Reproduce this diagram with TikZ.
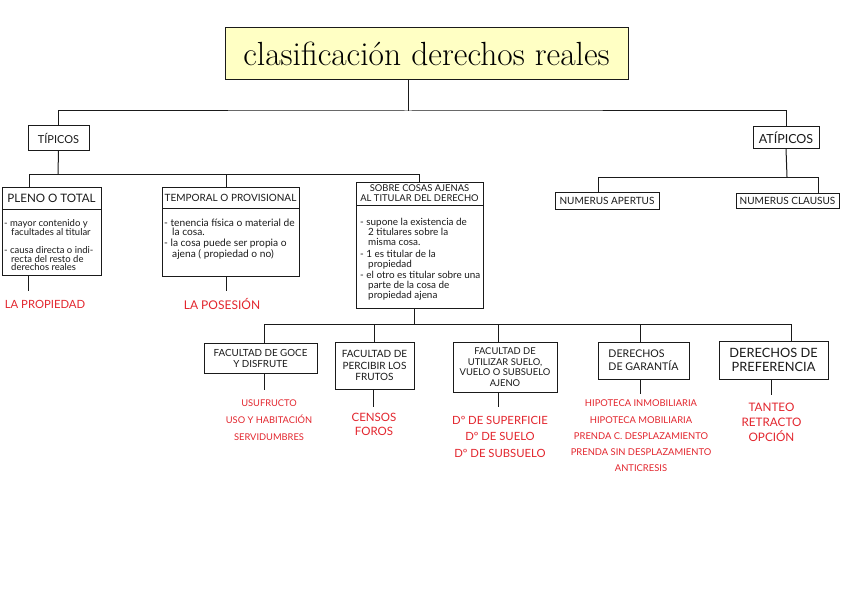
\documentclass[tikz,border=0pt]{standalone}
\usepackage{fontspec}
\newfontfamily\hand{Lato}
\definecolor{redink}{HTML}{E3262E}
\definecolor{titlefill}{HTML}{FFFFC4}
\definecolor{ink}{HTML}{1A1A1A}
\newcommand\hsz[2]{\fontsize{#1}{#2}\selectfont}
\begin{document}
\begin{tikzpicture}[x=1pt,y=-1pt,
  ln/.style={draw=ink, line width=1pt},
  bx/.style={draw=ink, line width=1pt, inner sep=0pt, align=center, text=ink},
  bodytxt/.style={align=left, inner sep=0pt, anchor=north west, text=ink},
  redlbl/.style={text=redink, align=center, inner sep=0pt}
]
\useasboundingbox (0,0) rectangle (848,599);
\fill[white] (0,0) rectangle (848,599);

% title
\node[bx, fill=titlefill, text=black, minimum width=403, minimum height=52, font=\hsz{33.5}{35}] (title) at (426.5,54) {clasificación derechos reales};

% level 1
\node[bx, minimum width=61, minimum height=24, font=\hand\hsz{11}{12}] (tip) at (58.5,138) {TÍPICOS};
\node[bx, minimum width=66, minimum height=21, font=\hand\hsz{12.5}{13}] (atip) at (786,137.5) {ATÍPICOS};

% típicos children
\node[bx, minimum width=99, minimum height=22, font=\hand\hsz{11.6}{12}] (plenoH) at (51.5,198) {PLENO O TOTAL};
\node[bx, minimum width=99, minimum height=66] (plenoB) at (51.5,242) {};
\node[bx, minimum width=137, minimum height=21, font=\hand\hsz{10}{11}] (tempH) at (230.5,197.5) {TEMPORAL O PROVISIONAL};
\node[bx, minimum width=137, minimum height=68] (tempB) at (230.5,242) {};
\node[bx, minimum width=127, minimum height=23, font=\hand\hsz{9.4}{10}] (sobreH) at (419.5,193.5) {SOBRE COSAS AJENAS\\AL TITULAR DEL DERECHO};
\node[bx, minimum width=127, minimum height=103] (sobreB) at (419.5,256.5) {};

\node[bodytxt, font=\hand\hsz{9.5}{8.6}] (plenoT) at (4,219) {- mayor contenido y\\\hspace*{7pt}facultades al titular\\[9pt]- causa directa o indi-\\\hspace*{7pt}recta del resto de\\\hspace*{7pt}derechos reales};
\node[bodytxt, font=\hand\hsz{10.2}{9}] (tempT) at (164,219) {- tenencia física o material de\\\hspace*{8pt}la cosa.\\[2pt]- la cosa puede ser propia o\\\hspace*{8pt}ajena ( propiedad o no)};
\node[bodytxt, font=\hand\hsz{9.9}{9.8}] (sobreT) at (360,218) {- supone la existencia de\\\hspace*{8pt}2 titulares sobre la\\\hspace*{8pt}misma cosa.\\[3pt]- 1 es titular de la\\\hspace*{8pt}propiedad\\[1pt]- el otro es titular sobre una\\\hspace*{8pt}parte de la cosa de\\\hspace*{8pt}propiedad ajena};

% atípicos children
\node[bx, minimum width=104, minimum height=17, font=\hand\hsz{10}{11}] (apertus) at (607,200.5) {NUMERUS APERTUS};
\node[bx, minimum width=103, minimum height=15, font=\hand\hsz{10}{11}] (clausus) at (787.5,200.5) {NUMERUS CLAUSUS};

% sobre children
\node[bx, minimum width=113, minimum height=30, font=\hand\hsz{9.8}{11}] (goce) at (260.5,358) {FACULTAD DE GOCE\\Y DISFRUTE};
\node[bx, minimum width=79, minimum height=47, font=\hand\hsz{10}{11.3}] (perc) at (374.5,365.5) {FACULTAD DE\\PERCIBIR LOS\\FRUTOS};
\node[bx, minimum width=104, minimum height=50, font=\hand\hsz{9.4}{10.6}] (util) at (505,367) {FACULTAD DE\\UTILIZAR SUELO,\\VUELO O SUBSUELO\\AJENO};
\node[bx, minimum width=91, minimum height=37, font=\hand\hsz{10.6}{13}, align=left] (gar) at (643.5,360.5) {DERECHOS\\DE GARANTÍA};
\node[bx, minimum width=109, minimum height=38, font=\hand\hsz{12.8}{13.5}] (pref) at (773.5,360) {DERECHOS DE\\PREFERENCIA};

% red labels
\node[redlbl, font=\hand\hsz{11.3}{12}] (propR) at (45,304) {LA PROPIEDAD};
\node[redlbl, font=\hand\hsz{12}{12}] (posR) at (222,304) {LA POSESIÓN};
\node[redlbl, font=\hand\hsz{9.3}{17}] (goceR) at (269,420) {USUFRUCTO\\USO Y HABITACIÓN\\SERVIDUMBRES};
\node[redlbl, font=\hand\hsz{11.5}{14}] (percR) at (374,424) {CENSOS\\FOROS};
\node[redlbl, font=\hand\hsz{11.3}{16.5}] (utilR) at (500,436.5) {Dº DE SUPERFICIE\\Dº DE SUELO\\Dº DE SUBSUELO};
\node[redlbl, font=\hand\hsz{9.4}{16.3}] (garR) at (641,436) {HIPOTECA INMOBILIARIA\\HIPOTECA MOBILIARIA\\PRENDA C. DESPLAZAMIENTO\\PRENDA SIN DESPLAZAMIENTO\\ANTICRESIS};
\node[redlbl, font=\hand\hsz{11.7}{15}] (prefR) at (771.5,422) {TANTEO\\RETRACTO\\OPCIÓN};

% connector points
\coordinate (j0) at (408,111);
\coordinate (j1) at (58,174);
\coordinate (dPl) at (29,174);
\coordinate (dTm) at (226,174);
\coordinate (j2) at (787,177);
\coordinate (dAp) at (598,177);
\coordinate (dCl) at (818,177);
\coordinate (j3) at (414,324);
\coordinate (d1) at (264,324);
\coordinate (d2) at (374,324);
\coordinate (d3) at (498,324);
\coordinate (d4) at (640,324);
\coordinate (d5) at (791,324);
\coordinate (plE) at (28,291);
\coordinate (tmE) at (226,291);
\coordinate (gcE) at (264,390);
\coordinate (pcE) at (373,407);
\coordinate (utE) at (498,407);
\coordinate (grE) at (640,394);
\coordinate (prE) at (771,395);

% connectors
\draw[ln] (title.south -| j0) -- (j0);
\draw[ln] (tip.north) |- (j0) -| (atip.north);
\draw[ln] (tip.south) -- (j1);
\draw[ln] (plenoH.north -| dPl) -- (dPl) -- (sobreH.north |- j1) -- (sobreH.north);
\draw[ln] (tempH.north -| dTm) -- (dTm);
\draw[ln] (atip.south) -- (j2);
\draw[ln] (apertus.north -| dAp) -- (dAp) -- (dCl) -- (clausus.north -| dCl);
\draw[ln] (sobreB.south -| j3) -- (j3);
\draw[ln] (goce.north -| d1) -- (d1) -- (d5) -- (pref.north -| d5);
\draw[ln] (perc.north -| d2) -- (d2);
\draw[ln] (util.north -| d3) -- (d3);
\draw[ln] (gar.north -| d4) -- (d4);
\draw[ln] (plenoB.south -| plE) -- (plE);
\draw[ln] (tempB.south -| tmE) -- (tmE);
\draw[ln] (goce.south -| gcE) -- (gcE);
\draw[ln] (perc.south -| pcE) -- (pcE);
\draw[ln] (util.south -| utE) -- (utE);
\draw[ln] (gar.south -| grE) -- (grE);
\draw[ln] (pref.south -| prE) -- (prE);
\end{tikzpicture}
\end{document}
